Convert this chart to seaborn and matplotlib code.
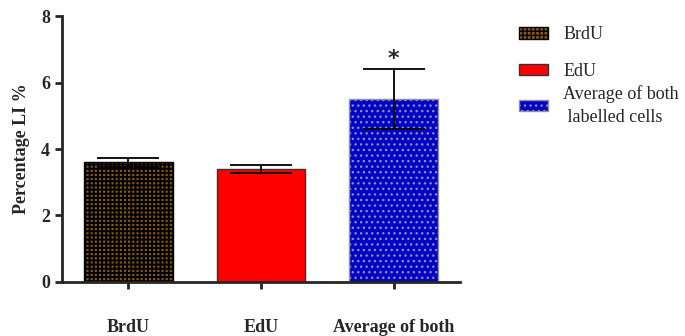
import numpy as np
import pandas as pd
import seaborn as sns
import matplotlib
matplotlib.use('Agg')
import matplotlib.pyplot as plt
from matplotlib.patches import Patch

# values
groups = ['BrdU', 'EdU', 'Average of both']
li_mean = [3.6, 3.4, 5.5]
li_err = [0.14, 0.12, 0.9]
legend_labels = ['BrdU', 'EdU', 'Average of both\n labelled cells']
colors = ['#8a5a10', '#ff0000', '#0000c8']
hatches = ['++++', '', '...']
hatch_cols = ['#000000', '#333333', '#9090a0']
hatch_lw = [1.4, 1.0, 1.0]

sns.set_style('ticks')
plt.rcParams['font.family'] = ['Liberation Serif', 'DejaVu Serif']

df = pd.DataFrame({'group': groups, 'li': li_mean})

fig = plt.figure(figsize=(6.85, 3.36), dpi=100)
ax = fig.add_axes([0.0905, 0.161, 0.581, 0.791])

sns.barplot(data=df, x='group', y='li', hue='group', palette=colors,
            saturation=1, width=0.67, errorbar=None, legend=False, ax=ax,
            edgecolor='#333333', linewidth=1)

def style_patch(p, h, ec, lw):
    if h:
        p.set_hatch(h)
        p.set_edgecolor(ec)
        if hasattr(p, 'set_hatch_linewidth'):
            p.set_hatch_linewidth(lw)
        else:
            p._hatch_linewidth = lw

for bar, h, ec, lw in zip(ax.patches, hatches, hatch_cols, hatch_lw):
    style_patch(bar, h, ec, lw)

ax.errorbar(range(len(groups)), li_mean, yerr=li_err, fmt='none',
            ecolor='black', elinewidth=1.3, capsize=22, capthick=1.3)
ax.text(2, li_mean[2] + li_err[2] + 0.02, '*', ha='center', va='bottom',
        fontsize=16, fontweight='bold', family='DejaVu Sans')

ax.set_ylim(0, 8)
ax.set_xlim(-0.5, 2.5)
ax.set_yticks([0, 2, 4, 6, 8])
ax.set_xlabel('')
ax.set_ylabel('Percentage LI %', fontsize=13, fontweight='bold', labelpad=8)
ax.tick_params(axis='both', width=2, length=5, labelsize=13)
ax.tick_params(axis='x', pad=22)
for lab in ax.get_xticklabels() + ax.get_yticklabels():
    lab.set_fontweight('bold')
sns.despine(ax=ax)
ax.spines['left'].set_linewidth(2)
ax.spines['bottom'].set_linewidth(2)

handles = []
for c, h, e, lw, l in zip(colors, hatches, hatch_cols, hatch_lw, legend_labels):
    p = Patch(facecolor=c, label=l, edgecolor='#333333')
    style_patch(p, h, e, lw)
    handles.append(p)

# two legends so the two-line entry sits like in the original
leg_kw = dict(frameon=False, fontsize=13, handlelength=1.6, handleheight=0.6,
              labelspacing=1.1, handletextpad=0.85, borderaxespad=0, borderpad=0)
fig.legend(handles=handles[:2], loc='upper left',
           bbox_to_anchor=(0.7575, 0.922), **leg_kw)
leg2 = fig.legend(handles=handles[2:], loc='center left',
                  bbox_to_anchor=(0.7575, 0.686), **leg_kw)
for t in leg2.get_texts():
    t.set_linespacing(1.4)

fig.savefig('out.png', dpi=100)
